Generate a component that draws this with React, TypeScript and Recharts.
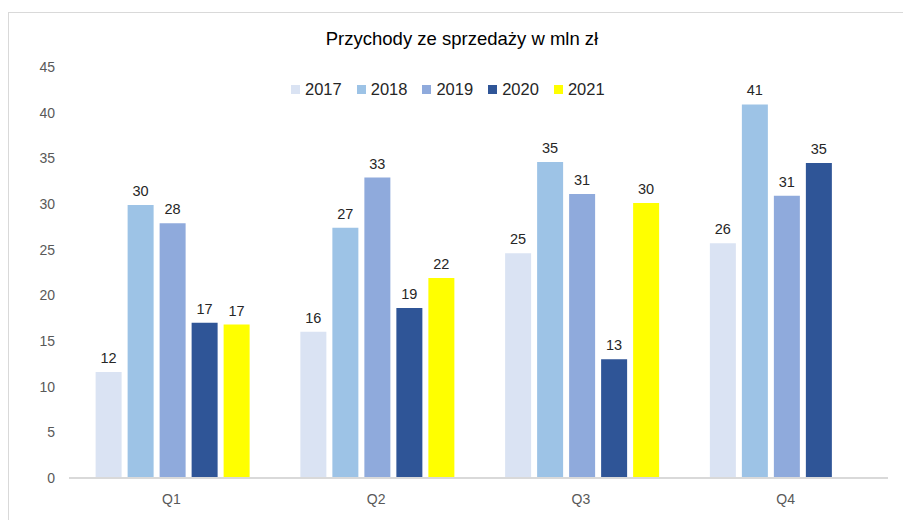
import React from 'react';
import { BarChart, Bar, XAxis, YAxis, LabelList } from 'recharts';

const categories = ['Q1', 'Q2', 'Q3', 'Q4'];
const years = ['2017', '2018', '2019', '2020', '2021'];
const values2017 = [11.6, 16.0, 24.6, 25.7];
const values2018 = [29.9, 27.4, 34.6, 40.9];
const values2019 = [27.9, 32.9, 31.1, 30.9];
const values2020 = [17.0, 18.6, 13.0, 34.5];
const values2021 = [16.8, 21.9, 30.1, null];
const yTicks = [0, 5, 10, 15, 20, 25, 30, 35, 40, 45];
const colors = ['#dae3f3', '#9dc3e6', '#8faadc', '#2f5597', '#ffff00'];

const series = [values2017, values2018, values2019, values2020, values2021];
const data = categories.map((c, i) => {
  const row: any = { name: c };
  years.forEach((y, k) => {
    row[y] = series[k][i];
  });
  return row;
});

const FONT = '"Liberation Sans", Arial, sans-serif';

export default function App() {
  return (
    <div style={{ position: 'absolute', left: 0, top: 0, width: 903, height: 520, background: '#fff', overflow: 'hidden' }}>
      <div style={{ position: 'absolute', left: 8, top: 12, width: 900, height: 520, borderTop: '1px solid #d9d9d9', borderLeft: '1px solid #d9d9d9' }} />
      <BarChart
        width={903}
        height={520}
        data={data}
        margin={{ top: 67, right: 15, bottom: 12, left: 8 }}
        barCategoryGap="13%"
        barGap={6}
        style={{ position: 'absolute', left: 0, top: 0 }}
      >
        <XAxis
          dataKey="name"
          axisLine={{ stroke: '#d9d9d9', strokeWidth: 2 }}
          tickLine={false}
          height={30}
          tickMargin={10}
          tick={{ fill: '#595959', fontSize: 14, fontFamily: FONT }}
        />
        <YAxis
          domain={[0, 45]}
          ticks={yTicks}
          width={61}
          axisLine={false}
          tickLine={false}
          tickMargin={8}
          tick={{ fill: '#595959', fontSize: 14, fontFamily: FONT }}
        />
        {years.map((y, k) => (
          <Bar key={y} dataKey={y} fill={colors[k]} isAnimationActive={false}>
            <LabelList
              dataKey={y}
              position="top"
              offset={9}
              formatter={(v: any) => (v == null ? '' : Math.round(v))}
              style={{ fill: '#262626', fontSize: 14.5, fontFamily: FONT }}
            />
          </Bar>
        ))}
      </BarChart>
      <div style={{ position: 'absolute', left: 0, top: 28, width: 924, textAlign: 'center', fontFamily: FONT, fontSize: 18.5, color: '#000' }}>
        Przychody ze sprzedaży w mln zł
      </div>
      <div style={{ position: 'absolute', left: 291, top: 80, display: 'flex', alignItems: 'center', fontFamily: FONT, fontSize: 16.5, color: '#262626' }}>
        {years.map((y, k) => (
          <div key={y} style={{ display: 'flex', alignItems: 'center', marginRight: 15 }}>
            <div style={{ width: 9, height: 9, background: colors[k], marginRight: 5 }} />
            <span>{y}</span>
          </div>
        ))}
      </div>
    </div>
  );
}
